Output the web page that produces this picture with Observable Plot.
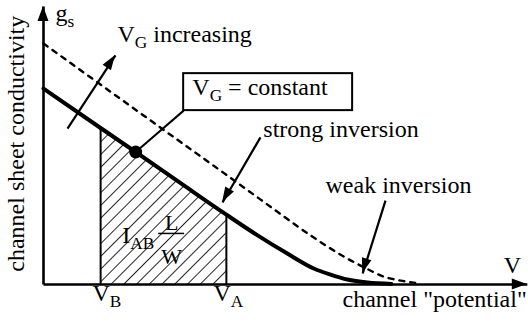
<!DOCTYPE html>
<html><head><meta charset="utf-8">
<script src="https://cdn.jsdelivr.net/npm/d3@7"></script>
<script src="https://cdn.jsdelivr.net/npm/@observablehq/plot@0.6"></script>
<style>body{margin:0;background:#fff} svg{display:block}</style>
</head><body><div id="chart"></div>
<script>
// Solid curve: g_s vs channel potential at V_G = constant
const solidX = [0, 1.19, 1.92, 2.85, 3.81, 4.46, 5.08, 5.63, 5.98, 6.33, 6.75, 7.25];
const solidY = [7.10, 5.67, 4.80, 3.68, 2.53, 1.78, 1.12, 0.58, 0.36, 0.18, 0.07, 0.02];
// Dashed curve: higher V_G
const dashX = [0, 1.40, 2.85, 3.54, 4.25, 4.94, 5.63, 6.35, 6.75, 7.02, 7.44, 7.85];
const dashY = [8.73, 6.98, 5.17, 4.31, 3.42, 2.55, 1.70, 0.92, 0.56, 0.33, 0.14, 0.04];
// Channel ends
const VB = 1.19, VA = 3.81;
const dotIndex = 2;
// Axis extents
const xMax = 10.08, yMax = 10.07;
// Annotation arrows (data units)
const arrows = [
  {x1: 0.50, y1: 5.65, x2: 1.50, y2: 8.30},
  {x1: 4.52, y1: 5.33, x2: 3.73, y2: 2.97},
  {x1: 7.125, y1: 3.04, x2: 6.65, y2: 0.40}
];
const axisArrows = [
  {x1: 0, y1: 0, x2: 0, y2: yMax},
  {x1: 0, y1: 0, x2: xMax, y2: 0}
];
const leader = [{x1: 1.92, y1: 4.80, x2: 2.92, y2: 6.30}];
const box = [{x1: 2.92, x2: 6.44, y1: 6.30, y2: 7.64}];
const startLabels = [
  {x: 0.25, y: 9.55, t: "g_{s}"},
  {x: 1.54, y: 8.77, t: "V_{G} increasing"},
  {x: 3.10, y: 6.85, t: "V_{G} = constant"},
  {x: 4.58, y: 5.33, t: "strong inversion"},
  {x: 5.875, y: 3.33, t: "weak inversion"},
  {x: 1.02, y: -0.58, t: "V_{B}"},
  {x: 3.54, y: -0.58, t: "V_{A}"},
  {x: 6.23, y: -0.83, t: "channel \"potential\""},
  {x: 1.64, y: 1.52, t: "I_{AB}"}
];
const middleLabels = [
  {x: 9.77, y: 0.40, t: "V"}
];
const fracText = [
  {x: 2.67, y: 1.99, t: "L"},
  {x: 2.67, y: 0.76, t: "W"}
];
const fracBar = [{x1: 2.40, x2: 2.94, y: 1.85}];
const yLabel = [{x: -0.56, y: 5.1, t: "channel sheet conductivity"}];

const solid = solidX.map((x, i) => ({x, y: solidY[i]}));
const dashed = dashX.map((x, i) => ({x, y: dashY[i]}));
const hatch = solid.filter(d => d.x >= VB && d.x <= VA);
const edges = [{x: VB, y: solidY[solidX.indexOf(VB)]}, {x: VA, y: solidY[solidX.indexOf(VA)]}];
const FONT = "'Liberation Serif', 'DejaVu Serif', serif";

function defsMark() {
  return () => {
    const g = d3.create("svg:g");
    const p = g.append("defs").append("pattern")
      .attr("id", "hatch").attr("patternUnits", "userSpaceOnUse")
      .attr("width", 9).attr("height", 9)
      .attr("patternTransform", "rotate(45)");
    p.append("line").attr("x1", 0).attr("y1", 0).attr("x2", 0).attr("y2", 9)
      .attr("stroke", "black").attr("stroke-width", 1.7);
    return g.node();
  };
}
function heads(list, len, half) {
  return (index, scales) => {
    const g = d3.create("svg:g");
    for (const a of list) {
      const x1 = scales.x(a.x1), y1 = scales.y(a.y1), x2 = scales.x(a.x2), y2 = scales.y(a.y2);
      const L = Math.hypot(x2 - x1, y2 - y1), ux = (x2 - x1) / L, uy = (y2 - y1) / L;
      const bx = x2 - ux * len, by = y2 - uy * len;
      g.append("path")
        .attr("d", `M${x2},${y2}L${bx - uy * half},${by + ux * half}L${bx + uy * half},${by - ux * half}Z`)
        .attr("fill", "black");
    }
    return g.node();
  };
}
const txt = {x: "x", y: "y", text: "t", lineAnchor: "bottom", fontFamily: FONT, fill: "black"};

const plot = Plot.plot({
  width: 528, height: 323, margin: 0,
  x: {domain: [0, 10], range: [43, 523], axis: null},
  y: {domain: [0, 10], range: [284, 8], axis: null},
  style: {background: "white", overflow: "visible"},
  marks: [
    defsMark(),
    Plot.areaY(hatch, {x: "x", y: "y", fill: "url(#hatch)"}),
    Plot.ruleX(edges, {x: "x", y1: 0, y2: "y", stroke: "black", strokeWidth: 2}),
    Plot.link(axisArrows, {x1: "x1", y1: "y1", x2: "x2", y2: "y2", stroke: "black", strokeWidth: 2.6}),
    heads(axisArrows, 15, 5.5),
    Plot.line(dashed, {x: "x", y: "y", curve: "monotone-x", stroke: "black", strokeWidth: 2.4, strokeDasharray: "5,6"}),
    Plot.line(solid, {x: "x", y: "y", curve: "monotone-x", stroke: "black", strokeWidth: 4}),
    Plot.dot([solid[dotIndex]], {x: "x", y: "y", r: 6.5, fill: "black"}),
    Plot.link(leader, {x1: "x1", y1: "y1", x2: "x2", y2: "y2", stroke: "black", strokeWidth: 2}),
    Plot.rect(box, {x1: "x1", x2: "x2", y1: "y1", y2: "y2", fill: "white", stroke: "black", strokeWidth: 2}),
    Plot.link(arrows, {x1: "x1", y1: "y1", x2: "x2", y2: "y2", stroke: "black", strokeWidth: 2.2}),
    heads(arrows, 15, 5),
    Plot.text(startLabels, {...txt, textAnchor: "start", fontSize: 24}),
    Plot.text(middleLabels, {...txt, textAnchor: "middle", fontSize: 24}),
    Plot.text(fracText, {...txt, textAnchor: "middle", fontSize: 22}),
    Plot.ruleY(fracBar, {x1: "x1", x2: "x2", y: "y", stroke: "black", strokeWidth: 1.5}),
    Plot.text(yLabel, {x: "x", y: "y", text: "t", rotate: -90, textAnchor: "middle", fontFamily: FONT, fontSize: 24, fill: "black"})
  ]
});

// Render "_{...}" as subscripts
plot.querySelectorAll("text").forEach(t => {
  const s = t.textContent;
  if (!s.includes("_{")) return;
  t.textContent = "";
  const parts = s.split(/(_\{[^}]*\})/);
  let shifted = false;
  for (const p of parts) {
    if (!p) continue;
    const ts = document.createElementNS("http://www.w3.org/2000/svg", "tspan");
    if (p.startsWith("_{")) {
      ts.textContent = p.slice(2, -1);
      ts.setAttribute("dy", "6");
      ts.setAttribute("font-size", "72%");
      shifted = true;
    } else {
      ts.textContent = p;
      if (shifted) { ts.setAttribute("dy", "-6"); shifted = false; }
    }
    t.appendChild(ts);
  }
});
document.getElementById("chart").appendChild(plot);
</script>
</body></html>
